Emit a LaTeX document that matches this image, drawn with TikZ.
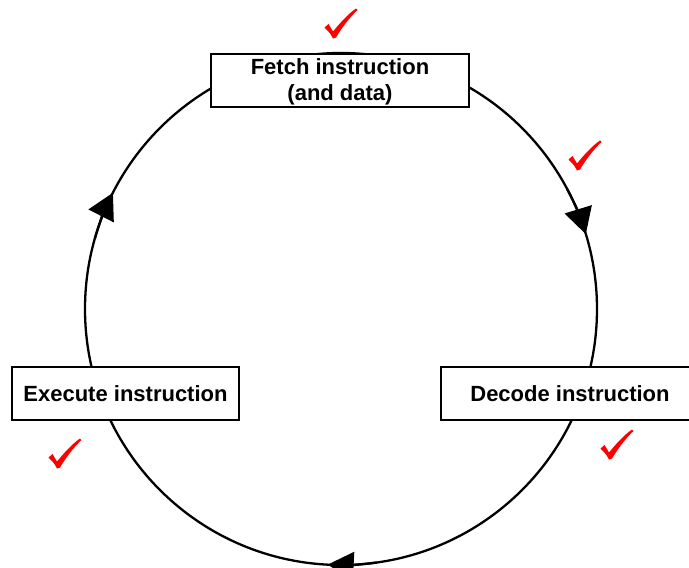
\documentclass[tikz,border=0pt]{standalone}
\usepackage{fontspec}
\setmainfont{Liberation Sans}
\usetikzlibrary{arrows.meta,calc}

\tikzset{
  stagebox/.style={draw=black, line width=2.6pt, fill=white, inner sep=0pt,
    minimum height=53pt, align=center,
    font=\fontsize{22}{26}\selectfont\bfseries},
  cyclering/.style={draw=black, line width=2.3pt},
  cyclehead/.style={cyclering, -{Triangle[length=26pt,width=28pt]}},
  tick/.pic={
    \fill[red] (-8.5,-9.5) -- (-4.5,-13) .. controls (-2.5,-10) .. (0,-5.5)
      .. controls (7,-14) and (15,-23) .. (23,-28.5) -- (24.5,-27)
      .. controls (16,-19) and (8,-8) .. (3,0.5) -- (0,1.5)
      .. controls (-3,-4) .. (-8.5,-9.5) -- cycle;
  }
}

\begin{document}
\begin{tikzpicture}[x=1pt, y=-1pt]
  \useasboundingbox (0,0) rectangle (689,568);
  \clip (0,0) rectangle (689,568);

  % the instruction cycle
  \coordinate (c) at (341,309);
  \def\R{256}
  \path[cyclering] (c) circle (\R);

  % direction heads along the cycle
  \draw[cyclehead] ($(c)+(-28:\R)$) arc[start angle=-28, end angle=-17, radius=\R];
  \draw[cyclehead] ($(c)+(82:\R)$) arc[start angle=82, end angle=93, radius=\R];
  \draw[cyclehead] ($(c)+(196:\R)$) arc[start angle=196, end angle=207, radius=\R];

  % stages (the two-line label sits slightly low in its frame)
  \node[stagebox, minimum width=258pt, text height=45pt, text depth=4.5pt]
    (fetch) at (340,80.5) {Fetch instruction\\(and data)};
  \node[stagebox, minimum width=258pt] (decode) at (570,393.5) {Decode instruction};
  \node[stagebox, minimum width=227pt] (execute) at (125.5,393.5) {Execute instruction};

  % completion ticks
  \pic at (333,37) {tick};
  \pic at (577,169) {tick};
  \pic at (609,458) {tick};
  \pic at (57,467) {tick};
\end{tikzpicture}
\end{document}
